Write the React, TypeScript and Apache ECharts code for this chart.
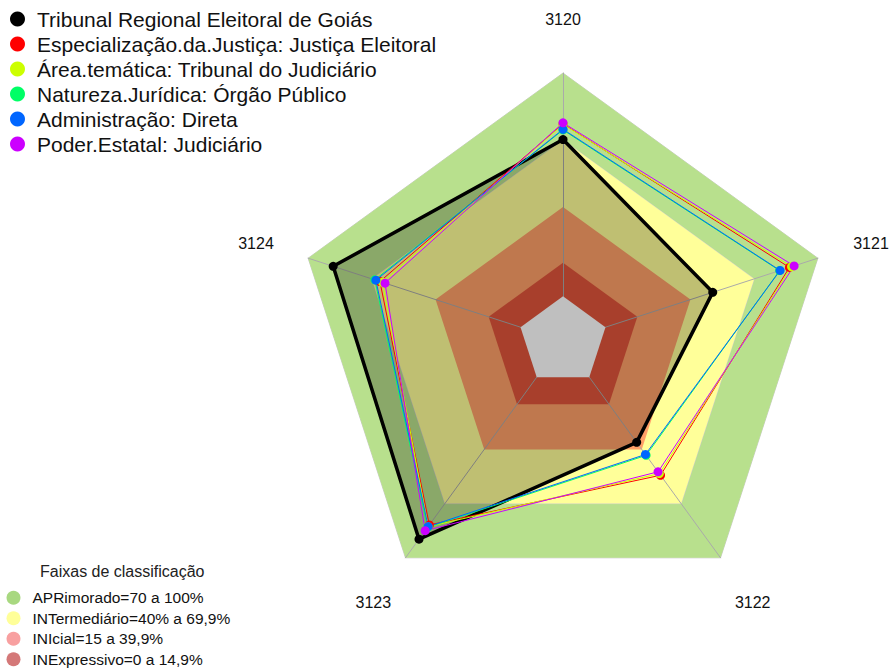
import React, { useEffect, useRef } from 'react';
import * as echarts from 'echarts';

const indicators = ['3120', '3121', '3122', '3123', '3124'];
const axisMin = -20;
const axisMax = 100;

const seriesNames = [
  'Tribunal Regional Eleitoral de Goiás',
  'Especialização.da.Justiça: Justiça Eleitoral',
  'Área.temática: Tribunal do Judiciário',
  'Natureza.Jurídica: Órgão Público',
  'Administração: Direta',
  'Poder.Estatal: Judiciário',
];
const seriesColors = ['#000000', '#ff0000', '#ccff00', '#00ff66', '#0066ff', '#cc00ff'];

// values in indicator order 3120, 3121, 3122, 3123, 3124
const tribunal = [70.2, 50.5, 36.1, 89.7, 88.2];
const especializacao = [77.2, 86.6, 54.3, 81.8, 66.2];
const areaTematica = [77.0, 87.6, 53.4, 82.8, 65.0];
const natureza = [74.5, 82.0, 43.3, 83.2, 68.6];
const administracao = [74.8, 82.2, 42.8, 82.7, 68.1];
const poderEstatal = [77.7, 88.8, 52.4, 85.0, 63.8];

const bandNames = [
  'APRimorado=70 a 100%',
  'INTermediário=40% a 69,9%',
  'INIcial=15 a 39,9%',
  'INExpressivo=0 a 14,9%',
];
const bandLevels = [100, 70, 40, 15];
const bandColors = ['#b8e08d', '#ffff99', '#ffa068', '#e0553b'];
const bandLegendColors = ['#a8d880', '#ffff99', '#f8a0a0', '#d47878'];
const baseLevel = 0;

const FONT = '"Liberation Sans", Arial, Helvetica, sans-serif';

export default function App() {
  const ref = useRef<HTMLDivElement>(null);

  useEffect(() => {
    if (!ref.current) return;
    const chart = echarts.init(ref.current, null, { renderer: 'svg' });

    // clockwise arrangement: top, then right side
    const order = [0, 4, 3, 2, 1];
    const reorder = (arr: number[]) => order.map((i) => arr[i]);
    const allData = [tribunal, especializacao, areaTematica, natureza, administracao, poderEstatal];

    const nameKey: Record<string, string> = { '3120': 't', '3121': 'r', '3122': 'br', '3123': 'bl', '3124': 'l' };
    const nameRich = {
      t: { fontSize: 16, color: '#111', fontFamily: FONT, padding: [0, 0, 21, 0] },
      r: { fontSize: 16, color: '#111', fontFamily: FONT, padding: [0, 0, 15, 12] },
      br: { fontSize: 16, color: '#111', fontFamily: FONT, padding: [50, 0, 0, 0] },
      bl: { fontSize: 16, color: '#111', fontFamily: FONT, padding: [50, 0, 0, 0] },
      l: { fontSize: 16, color: '#111', fontFamily: FONT, padding: [0, 11, 15, 0] },
    };

    const bandSeries = bandLevels.map((lv, i) => ({
      type: 'radar',
      name: bandNames[i],
      z: 1,
      silent: true,
      symbol: 'none',
      lineStyle: { width: i < 2 ? 1 : 0, color: '#cccccc' },
      areaStyle: { color: bandColors[i], opacity: 1 },
      itemStyle: { color: bandLegendColors[i] },
      data: [{ value: indicators.map(() => lv), name: bandNames[i] }],
    }));

    const baseSeries = {
      type: 'radar',
      name: 'base',
      z: 3,
      silent: true,
      symbol: 'none',
      lineStyle: { width: 0 },
      areaStyle: { color: '#ffffff', opacity: 1 },
      data: [{ value: indicators.map(() => baseLevel), name: 'base' }],
    };

    const dataSeries = seriesNames.map((n, i) => ({
      type: 'radar',
      name: n,
      z: i === 0 ? 4 : 5,
      symbol: 'circle',
      symbolSize: 9,
      lineStyle: { width: i === 0 ? 3.5 : 1, color: seriesColors[i] },
      itemStyle: { color: seriesColors[i] },
      areaStyle: i === 0 ? { color: 'rgba(0,0,0,0.25)', opacity: 1 } : undefined,
      data: [{ value: reorder(allData[i]), name: n }],
    }));

    const option: any = {
      animation: false,
      backgroundColor: '#ffffff',
      title: {
        text: 'Faixas de classificação',
        left: 40,
        top: 563,
        padding: 0,
        textStyle: { fontSize: 16, fontWeight: 'normal', color: '#222', fontFamily: FONT },
      },
      legend: [
        {
          orient: 'vertical',
          left: 10,
          top: 8.5,
          icon: 'circle',
          itemWidth: 29,
          itemHeight: 15,
          itemGap: 4,
          padding: 0,
          selectedMode: false,
          textStyle: { fontSize: 21, lineHeight: 21, color: '#111', fontFamily: FONT },
          data: seriesNames.map((n, i) => ({ name: n, itemStyle: { color: seriesColors[i], borderWidth: 0 } })),
        },
        {
          orient: 'vertical',
          left: 6.5,
          top: 589.7,
          icon: 'circle',
          itemWidth: 28,
          itemHeight: 14,
          itemGap: 4.5,
          padding: 0,
          selectedMode: false,
          textStyle: { fontSize: 15.5, lineHeight: 16, color: '#111', fontFamily: FONT },
          data: bandNames.map((n, i) => ({ name: n, itemStyle: { color: bandLegendColors[i], borderWidth: 0 } })),
        },
      ],
      radar: {
        z: 2,
        center: [563, 341],
        radius: 268,
        startAngle: 90,
        shape: 'polygon',
        splitNumber: 6,
        axisNameGap: 24.5,
        axisName: {
          fontSize: 16,
          color: '#111',
          fontFamily: FONT,
          formatter: (name: string) => `{${nameKey[name]}|${name}}`,
          rich: nameRich,
        },
        indicator: order.map((i) => ({ name: indicators[i], min: axisMin, max: axisMax })),
        axisLine: { show: true, lineStyle: { color: '#aaaaaa', width: 1 } },
        splitLine: { show: false },
        splitArea: { show: false },
        axisTick: { show: false },
        axisLabel: { show: false },
      },
      series: [...bandSeries, baseSeries, ...dataSeries],
    };

    chart.setOption(option);
    return () => chart.dispose();
  }, []);

  return (
    <div
      ref={ref}
      style={{ position: 'absolute', left: 0, top: 0, width: 889, height: 668, background: '#fff' }}
    />
  );
}
